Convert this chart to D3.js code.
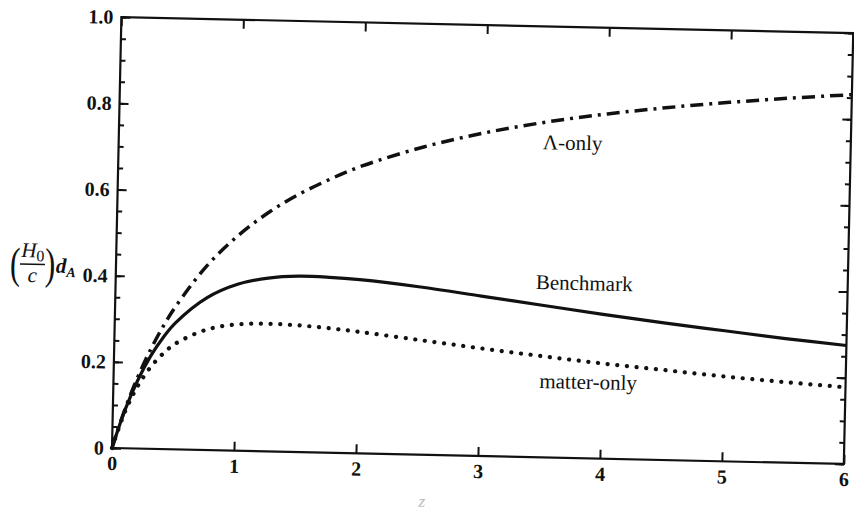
<!DOCTYPE html>
<html>
<head>
<meta charset="utf-8">
<script src="https://cdn.jsdelivr.net/npm/d3@7"></script>
<style>
  body { margin: 0; background: #fff; }
  svg text { font-family: "Liberation Serif", "Times New Roman", Times, Tinos, "DejaVu Serif", "Noto Serif", serif; fill: #111; }
</style>
</head>
<body>
<svg id="plot" width="854" height="519"></svg>
<script>
// redshift samples
var zValues = [0, 0.1, 0.2, 0.3, 0.4, 0.5, 0.75, 1, 1.25, 1.5, 1.75, 2, 2.5, 3, 3.5, 4, 4.5, 5, 5.5, 6];

// (H0/c) dA
var lambdaOnly = [0, 0.091, 0.167, 0.231, 0.286, 0.333, 0.429, 0.500, 0.556, 0.600, 0.636, 0.667, 0.714, 0.750, 0.778, 0.800, 0.818, 0.833, 0.846, 0.857];
var benchmark  = [0, 0.089, 0.159, 0.215, 0.259, 0.294, 0.353, 0.386, 0.402, 0.408, 0.407, 0.403, 0.389, 0.371, 0.353, 0.335, 0.318, 0.303, 0.288, 0.275];
var matterOnly = [0, 0.085, 0.145, 0.189, 0.221, 0.245, 0.279, 0.293, 0.296, 0.294, 0.289, 0.282, 0.266, 0.250, 0.235, 0.221, 0.209, 0.197, 0.187, 0.178];

var xTicks = [0, 1, 2, 3, 4, 5, 6];
var yTicks = [0, 0.2, 0.4, 0.6, 0.8, 1.0];
var yTickLabels = ["0", "0.2", "0.4", "0.6", "0.8", "1.0"];
var yMinorTicks = d3.range(0, 1.0001, 0.05);

var curveNames = ["\u039B-only", "Benchmark", "matter-only"];
var labelZ = [3.72, 3.84, 3.89];
var labelV = [0.715, 0.39, 0.161];

// plot geometry (the scan is tilted a little)
var left = 112, bottom = 448;
var w = 732, h = 431;
var tilt = 1.25;

var svg = d3.select("#plot");
var g = svg.append("g")
  .attr("transform", "rotate(" + tilt + "," + left + "," + bottom + ") translate(" + left + "," + (bottom - h) + ")");

var xScale = d3.scaleLinear().domain([0, 6]).range([0, w]);
var yScale = d3.scaleLinear().domain([0, 1]).range([h, 0]);

// frame
g.append("rect")
  .attr("x", 0).attr("y", 0)
  .attr("width", w).attr("height", h)
  .attr("fill", "none")
  .attr("stroke", "#111")
  .attr("stroke-width", 2.2);

// left axis: major + minor ticks pointing inward
var yAxisMinor = d3.axisLeft(yScale).tickValues(yMinorTicks).tickSize(-5).tickFormat("");
var yAxis = d3.axisLeft(yScale).tickValues(yTicks).tickSize(-9).tickPadding(8)
  .tickFormat(function(d, i) { return yTickLabels[i]; });

g.append("g").call(yAxisMinor);
g.append("g").call(yAxis);

// right axis
g.append("g").attr("transform", "translate(" + w + ",0)")
  .call(d3.axisRight(yScale).tickValues(yMinorTicks).tickSize(-5).tickFormat(""));
g.append("g").attr("transform", "translate(" + w + ",0)")
  .call(d3.axisRight(yScale).tickValues(yTicks).tickSize(-9).tickFormat(""));

// bottom and top axes
g.append("g").attr("transform", "translate(0," + h + ")")
  .call(d3.axisBottom(xScale).tickValues(xTicks).tickSize(-9).tickPadding(8).tickFormat(d3.format("d")));
g.append("g")
  .call(d3.axisTop(xScale).tickValues(xTicks).tickSize(-9).tickFormat(""));

g.selectAll(".domain").remove();
g.selectAll("g").attr("font-family", null);
g.selectAll(".tick line").attr("stroke", "#111").attr("stroke-width", 2);
g.selectAll(".tick text")
  .attr("font-size", 20)
  .attr("font-weight", "bold")
  .attr("fill", "#111");

// curves
var line = d3.line()
  .x(function(d) { return xScale(d[0]); })
  .y(function(d) { return yScale(d[1]); })
  .curve(d3.curveCatmullRom);

function pairs(vals) {
  return zValues.map(function(z, i) { return [z, vals[i]]; });
}

g.append("path")
  .datum(pairs(lambdaOnly))
  .attr("d", line)
  .attr("fill", "none")
  .attr("stroke", "#111")
  .attr("stroke-width", 3.5)
  .attr("stroke-dasharray", "13 6 3 6");

g.append("path")
  .datum(pairs(benchmark))
  .attr("d", line)
  .attr("fill", "none")
  .attr("stroke", "#111")
  .attr("stroke-width", 3.2);

g.append("path")
  .datum(pairs(matterOnly))
  .attr("d", line)
  .attr("fill", "none")
  .attr("stroke", "#111")
  .attr("stroke-width", 4.2)
  .attr("stroke-linecap", "round")
  .attr("stroke-dasharray", "0.1 9.6");

// curve labels
g.selectAll(".clabel")
  .data(curveNames)
  .enter()
  .append("text")
  .attr("class", "clabel")
  .attr("x", function(d, i) { return xScale(labelZ[i]); })
  .attr("y", function(d, i) { return yScale(labelV[i]); })
  .attr("text-anchor", "middle")
  .attr("font-size", 21)
  .text(function(d) { return d; });

// x axis title (faint in the scan)
g.append("text")
  .attr("x", xScale(2.55))
  .attr("y", h + 52)
  .attr("text-anchor", "middle")
  .attr("font-size", 17)
  .attr("font-style", "italic")
  .style("fill", "#b8b8b8")
  .text("z");

// y axis title: (H0 / c) dA
var yt = g.append("g").attr("transform", "translate(-106," + yScale(0.42) + ")");
yt.append("text").attr("x", 0).attr("y", 13).attr("font-size", 44).attr("transform", "scale(0.7,1)").text("(");
yt.append("text").attr("x", 50).attr("y", 13).attr("font-size", 44).attr("transform", "scale(0.7,1)").text(")");
var num = yt.append("text").attr("x", 11).attr("y", -8).attr("font-size", 21).attr("font-style", "italic");
num.append("tspan").text("H");
num.append("tspan").attr("font-style", "normal").attr("font-size", 16).attr("dy", 4).text("0");
yt.append("line").attr("x1", 10).attr("x2", 35).attr("y1", -1).attr("y2", -1)
  .attr("stroke", "#111").attr("stroke-width", 1.6);
yt.append("text").attr("x", 18).attr("y", 17).attr("font-size", 21).attr("font-style", "italic").text("c");
var da = yt.append("text").attr("x", 46).attr("y", 7).attr("font-size", 21).attr("font-style", "italic").attr("font-weight", "bold");
da.append("tspan").text("d");
da.append("tspan").attr("font-size", 14).attr("dy", 4).text("A");
</script>
</body>
</html>
